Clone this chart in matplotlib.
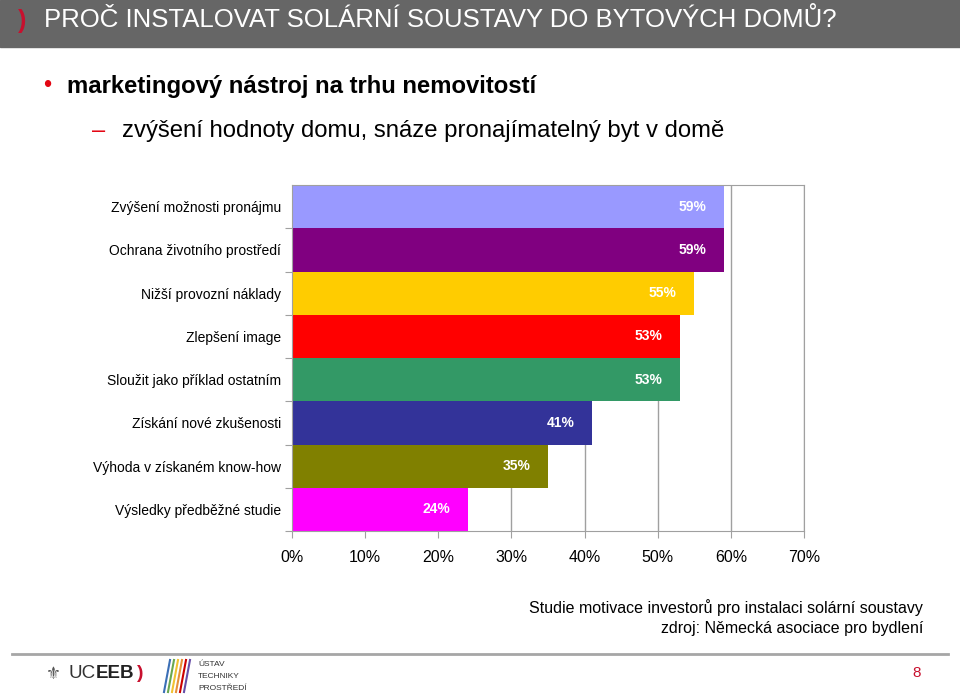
import matplotlib.pyplot as plt
from matplotlib.patches import Rectangle

# data (top to bottom)
categories = ['Zvýšení možnosti pronájmu', 'Ochrana životního prostředí',
              'Nižší provozní náklady', 'Zlepšení image',
              'Sloužit jako příklad ostatním', 'Získání nové zkušenosti',
              'Výhoda v získaném know-how', 'Výsledky předběžné studie']
values = [59, 59, 55, 53, 53, 41, 35, 24]
colors = ['#9999FF', '#800080', '#FFCC00', '#FF0000',
          '#339966', '#333399', '#808000', '#FF00FF']
ticks = [0, 10, 20, 30, 40, 50, 60, 70]

plt.rcParams['font.family'] = ['Liberation Sans', 'DejaVu Sans']

fig = plt.figure(figsize=(9.6, 6.97), dpi=100)
W, H = 960, 697

def fx(px):
    return px / W

def fy(py):
    return 1 - py / H

# header band
fig.patches.append(Rectangle((0, fy(47)), 1, 47 / H, transform=fig.transFigure,
                             color='#666666', zorder=0))
fig.text(fx(18), fy(21), ')', color='#C8102E', fontsize=18, fontweight='bold',
         va='center', ha='left')
fig.text(fx(44), fy(20), 'PROČ INSTALOVAT SOLÁRNÍ SOUSTAVY DO BYTOVÝCH DOMŮ?',
         color='white', fontsize=18.5, va='center', ha='left')

# bullets
fig.text(fx(43), fy(86), '•', color='#E30613', fontsize=17, va='center', ha='left')
fig.text(fx(67), fy(87), 'marketingový nástroj na trhu nemovitostí',
         fontsize=17.2, fontweight='bold', va='center', ha='left')
fig.text(fx(92), fy(131), '–', color='#E30613', fontsize=17, va='center', ha='left')
fig.text(fx(122), fy(131), 'zvýšení hodnoty domu, snáze pronajímatelný byt v domě',
         fontsize=17.2, va='center', ha='left')

# chart
ax = fig.add_axes([fx(292), fy(531), fx(804) - fx(292), (531 - 185) / H])
y = list(range(len(categories)))
ax.barh(y, values, height=1.0, color=colors, zorder=2)
for yi, v in zip(y, values):
    ax.text(v - 2.4, yi, f'{v}%', color='white', fontweight='bold', fontsize=10,
            ha='right', va='center', zorder=3)
ax.set_ylim(len(categories) - 0.5, -0.5)
ax.set_xlim(0, 70)
ax.set_xticks(ticks)
ax.set_xticklabels([f'{t}%' for t in ticks], fontsize=11.5)
ax.set_yticks([i + 0.5 for i in y])
ax.set_yticklabels([])
ax.set_yticks(y, minor=True)
ax.set_yticklabels(categories, minor=True, fontsize=10)
ax.tick_params(axis='y', which='minor', length=0, pad=8)
ax.tick_params(axis='y', which='major', length=5, color='#A0A0A0')
ax.tick_params(axis='x', length=5, color='#A0A0A0', pad=9)
ax.grid(axis='x', color='#A0A0A0', linewidth=1, zorder=1)
ax.set_axisbelow(True)
for s in ax.spines.values():
    s.set_color('#A0A0A0')

# caption
fig.text(fx(923), fy(608), 'Studie motivace investorů pro instalaci solární soustavy',
         fontsize=11.5, ha='right', va='center')
fig.text(fx(923), fy(629), 'zdroj: Německá asociace pro bydlení',
         fontsize=11.5, ha='right', va='center')

# footer
fig.add_artist(plt.Line2D([fx(12), fx(948)], [fy(654), fy(654)],
                          color='#A6A6A6', linewidth=2))
fig.text(fx(46), fy(674), '⚜', fontsize=12, va='center', ha='left', color='#555555',
         family=['DejaVu Sans'])
fig.text(fx(68), fy(674), 'UC', fontsize=13.5, va='center', ha='left', color='#333333')
fig.text(fx(96), fy(674), 'EEB', fontsize=13.5, fontweight='bold', va='center',
         ha='left', color='#222222')
fig.text(fx(137), fy(673), ')', fontsize=14, fontweight='bold', va='center',
         ha='left', color='#C8102E')
stripe_colors = ['#3B6FB6', '#6AA84F', '#F1C232', '#E69138', '#CC0000', '#674EA7']
for i, c in enumerate(stripe_colors):
    fig.add_artist(plt.Line2D([fx(164 + i * 4), fx(170 + i * 4)], [fy(692), fy(660)],
                              color=c, linewidth=1.5))
fig.text(fx(198), fy(665), 'ÚSTAV', fontsize=6, va='center', ha='left', color='#333333')
fig.text(fx(198), fy(677), 'TECHNIKY', fontsize=6, va='center', ha='left', color='#333333')
fig.text(fx(198), fy(689), 'PROSTŘEDÍ', fontsize=6, va='center', ha='left', color='#333333')
fig.text(fx(917), fy(673), '8', fontsize=11, va='center', ha='center', color='#C8102E')

fig.savefig('out.png', dpi=100)
